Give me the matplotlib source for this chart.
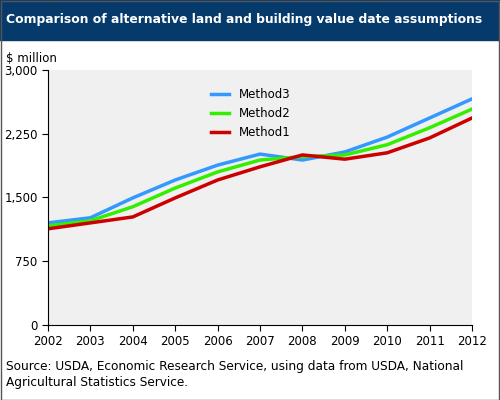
import matplotlib
matplotlib.use("Agg")
import matplotlib.pyplot as plt
from matplotlib.patches import Rectangle

years = list(range(2002, 2013))
method3 = [1200, 1260, 1494, 1705, 1880, 2010, 1940, 2035, 2210, 2435, 2660]
method2 = [1165, 1225, 1390, 1610, 1800, 1940, 1980, 2000, 2120, 2320, 2540]
method1 = [1130, 1200, 1270, 1494, 1705, 1860, 2000, 1950, 2025, 2200, 2435]
yticks = [0, 750, 1500, 2250, 3000]
ytick_labels = ["0", "750", "1,500", "2,250", "3,000"]

fig = plt.figure(figsize=(5, 4), dpi=100)
fig.patches.append(Rectangle((0, 0.9), 1, 0.1, transform=fig.transFigure, color="#063a6b", zorder=0))
fig.patches.append(Rectangle((0.001, 0.001), 0.997, 0.997, transform=fig.transFigure, fill=False, ec="#555555", lw=1))
fig.text(0.012, 0.95, "Comparison of alternative land and building value date assumptions",
         color="white", fontweight="bold", fontsize=8.9, va="center")
ax = fig.add_axes([0.096, 0.188, 0.848, 0.637])
ax.set_facecolor("#f0f0f0")
ax.plot(years, method3, color="#3399ff", lw=2.5, label="Method3")
ax.plot(years, method2, color="#33ee00", lw=2.5, label="Method2")
ax.plot(years, method1, color="#cc0000", lw=2.5, label="Method1")
ax.set_xlim(2002, 2012)
ax.set_ylim(0, 3000)
ax.set_xticks(years)
ax.set_yticks(yticks)
ax.set_yticklabels(ytick_labels)
ax.tick_params(labelsize=8.5, length=4)
for s in ["top", "right"]:
    ax.spines[s].set_visible(False)
ax.legend(loc="upper left", bbox_to_anchor=(0.36, 0.97), frameon=False, fontsize=8.5, handlelength=1.5)
fig.text(0.012, 0.845, "$ million", fontsize=8.5)
fig.text(0.012, 0.035, "Source: USDA, Economic Research Service, using data from USDA, National\nAgricultural Statistics Service.",
         fontsize=8.7, linespacing=1.3)
fig.savefig("out.png", dpi=100)
